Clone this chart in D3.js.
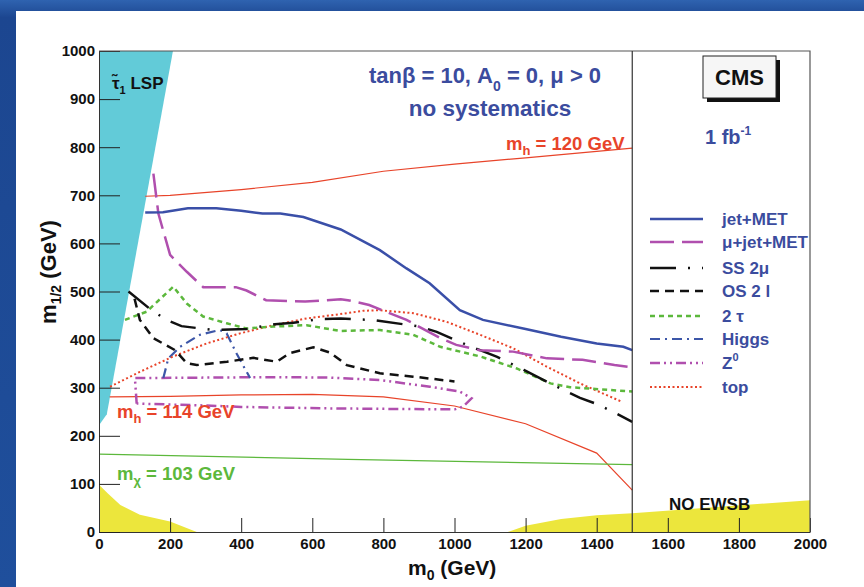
<!DOCTYPE html>
<html>
<head>
<meta charset="utf-8">
<script src="https://cdn.jsdelivr.net/npm/d3@7"></script>
<style>
  body { margin: 0; background: #1e4c96; }
  svg { display: block; }
  text { font-family: "Liberation Sans", Arial, sans-serif; font-weight: bold; }
</style>
</head>
<body>
<div id="chart"></div>
<script>
// region boundaries, [m0, m1/2] in GeV
var stauLSP = [[0,222],[22,245],[208,1000],[0,1000]];
var noEwsbLeft = [[0,0],[0,98],[25,80],[60,56],[115,36],[200,22],[275,0]];
var noEwsbRight = [[1150,0],[1200,13],[1300,27],[1400,35],[1500,39],[2000,66],[2000,0]];

// reference lines
var mh120 = [[130,698],[200,700],[400,712],[600,727],[800,750],[1000,765],[1200,778],[1500,798]];
var mh114 = [[30,281],[200,282],[400,285],[600,286],[800,281],[1000,262],[1200,225],[1400,164],[1500,87]];
var mchi103 = [[0,162],[700,151],[1500,140]];

// 5 sigma discovery reach, 1 fb-1
var jetMet = [[130,664],[180,665],[250,673],[330,673],[400,668],[460,662],[510,662],[575,655],[680,629],[790,586],[865,548],[930,517],[1015,461],[1080,441],[1200,422],[1300,406],[1400,392],[1475,385],[1500,378]];
var muJetMet = [[153,745],[167,662],[200,576],[247,541],[293,509],[385,509],[415,502],[470,482],[580,479],[680,484],[700,482],[760,472],[865,441],[960,403],[1005,389],[1070,378],[1165,375],[1260,361],[1360,358],[1450,347],[1500,342]];
var ss2mu = [[83,500],[148,461],[190,441],[232,428],[320,420],[415,422],[495,432],[547,435],[612,442],[680,444],[725,442],[770,441],[855,432],[903,427],[950,416],[1025,392],[1072,378],[1120,364],[1195,337],[1277,306],[1353,279],[1400,266],[1446,250],[1500,229]];
var os2l = [[100,485],[115,441],[153,403],[214,378],[247,351],[275,347],[360,354],[434,362],[500,354],[537,372],[603,384],[650,373],[697,347],[790,330],[884,323],[1000,313]];
var tau2 = [[73,441],[134,458],[209,510],[247,475],[293,448],[359,434],[415,423],[490,427],[584,430],[678,418],[790,420],[884,410],[960,385],[1072,365],[1175,340],[1270,309],[1325,301],[1500,292]];
var higgs = [[181,320],[195,361],[228,385],[284,410],[340,420],[359,413],[387,371],[425,320]];
var z0 = [[106,267],[101,320],[300,321],[500,322],[650,321],[790,316],[931,302],[1015,292],[1048,278],[1025,261],[1001,255],[800,256],[650,257],[400,260],[300,263],[106,267]];
var topReach = [[31,302],[115,333],[209,365],[303,392],[397,413],[490,430],[584,444],[678,453],[744,460],[790,461],[884,455],[978,437],[1072,410],[1165,382],[1259,344],[1353,309],[1470,271]];

var xTicks = [0,200,400,600,800,1000,1200,1400,1600,1800,2000];
var yTicks = [0,100,200,300,400,500,600,700,800,900,1000];

var width = 864, height = 587;
var textBlue = "#3b4c9e";

var svg = d3.select("#chart").append("svg")
    .attr("width", width)
    .attr("height", height);

var defs = svg.append("defs");
var grad = defs.append("linearGradient").attr("id", "bg").attr("x1", 0).attr("y1", 0).attr("x2", 0).attr("y2", 1);
grad.append("stop").attr("offset", "0").attr("stop-color", "#2f63b0");
grad.append("stop").attr("offset", "0.03").attr("stop-color", "#1c4690");
grad.append("stop").attr("offset", "1").attr("stop-color", "#1f4f9c");
defs.append("clipPath").attr("id", "plotclip")
  .append("rect").attr("x", 99).attr("y", 51).attr("width", 711).attr("height", 481);

svg.append("rect").attr("width", width).attr("height", height).attr("fill", "url(#bg)");
svg.append("rect").attr("x", 16).attr("y", 11).attr("width", width - 16).attr("height", height - 11).attr("fill", "#fff");

var x = d3.scaleLinear().domain([0, 2000]).range([99, 810]);
var y = d3.scaleLinear().domain([0, 1000]).range([532, 51]);

var line = d3.line().x(function(d) { return x(d[0]); }).y(function(d) { return y(d[1]); });

var plot = svg.append("g").attr("clip-path", "url(#plotclip)");

plot.append("path").attr("d", line(stauLSP) + "Z").attr("fill", "#62cbd8");
plot.append("path").attr("d", line(noEwsbLeft) + "Z").attr("fill", "#ece63c");
plot.append("path").attr("d", line(noEwsbRight) + "Z").attr("fill", "#ece63c");

var curves = [
  {data: mh120, color: "#e8442a", w: 1.2, dash: null},
  {data: mh114, color: "#e8442a", w: 1.2, dash: null},
  {data: mchi103, color: "#5cb83c", w: 1.2, dash: null},
  {data: z0, color: "#b04fae", w: 2.5, dash: "10,4,2,4,2,4", name: "Z0"},
  {data: higgs, color: "#3c56a8", w: 2.2, dash: "10,5,2,5", name: "Higgs"},
  {data: topReach, color: "#e8442a", w: 2, dash: "2,2.5", name: "top"},
  {data: tau2, color: "#5cb83c", w: 2.5, dash: "5,4", name: "2tau"},
  {data: os2l, color: "#111", w: 2.5, dash: "9,6", name: "OS"},
  {data: ss2mu, color: "#111", w: 2.5, dash: "26,12,2,12", name: "SS"},
  {data: muJetMet, color: "#b04fae", w: 2.5, dash: "24,8", name: "mu"},
  {data: jetMet, color: "#3a4fa8", w: 2.5, dash: null, name: "jet"}
];

curves.forEach(function(c) {
  plot.append("path")
    .attr("d", line(c.data))
    .attr("fill", "none")
    .attr("stroke", c.color)
    .attr("stroke-width", c.w)
    .attr("stroke-dasharray", c.dash);
});

// axes, ROOT style: ticks inside
function minorTicks(step, max) {
  return d3.range(0, max + 0.1, step);
}

var xAxis = svg.append("g").attr("transform", "translate(0,532)");
xAxis.call(d3.axisBottom(x).tickValues(minorTicks(50, 2000)).tickSize(-7).tickFormat(""));
xAxis.call(d3.axisBottom(x).tickValues(xTicks).tickSizeInner(-14).tickSizeOuter(0).tickPadding(6).tickFormat(d3.format("d")));
xAxis.selectAll("text").attr("font-size", 15).attr("fill", "#111").attr("dy", "0.75em");

var yAxis = svg.append("g").attr("transform", "translate(99,0)");
yAxis.call(d3.axisLeft(y).tickValues(minorTicks(20, 1000)).tickSize(-11).tickFormat(""));
yAxis.call(d3.axisLeft(y).tickValues(yTicks).tickSizeInner(-21).tickSizeOuter(0).tickPadding(4).tickFormat(d3.format("d")));
yAxis.selectAll("text").attr("font-size", 15).attr("fill", "#111");
svg.selectAll(".domain").attr("stroke", "#333");
svg.selectAll(".tick line").attr("stroke", "#222");

// frame and the m0 = 1500 divider
svg.append("path")
  .attr("d", "M" + x(0) + "," + y(1000) + "H" + x(2000) + "V" + y(0))
  .attr("fill", "none").attr("stroke", "#555").attr("stroke-width", 1.2);
svg.append("line")
  .attr("x1", x(1500)).attr("x2", x(1500)).attr("y1", y(0)).attr("y2", y(1000))
  .attr("stroke", "#333").attr("stroke-width", 1.2);

// axis titles
var xt = svg.append("text").attr("x", 408).attr("y", 575).attr("font-size", 21).attr("fill", "#111");
xt.append("tspan").text("m");
xt.append("tspan").attr("font-size", 14).attr("dy", 5).text("0");
xt.append("tspan").attr("dy", -5).text(" (GeV)");

var yt = svg.append("text").attr("transform", "translate(56,272) rotate(-90)")
  .attr("text-anchor", "middle").attr("font-size", 22).attr("fill", "#111");
yt.append("tspan").text("m");
yt.append("tspan").attr("font-size", 14).attr("dy", 5).text("1/2");
yt.append("tspan").attr("dy", -5).text(" (GeV)");

// annotations
var lsp = svg.append("text").attr("x", 112).attr("y", 89).attr("font-size", 17).attr("fill", "#111");
lsp.append("tspan").text("\u03c4\u0303");
lsp.append("tspan").attr("font-size", 11).attr("dy", 5).text("1");
lsp.append("tspan").attr("dy", -5).text(" LSP");

function massLabel(xp, yp, sub, rest, color) {
  var t = svg.append("text").attr("x", xp).attr("y", yp).attr("font-size", 18.5).attr("fill", color);
  t.append("tspan").text("m");
  t.append("tspan").attr("font-size", 13).attr("dy", 5).text(sub);
  t.append("tspan").attr("dy", -5).text(rest);
}
massLabel(506, 150, "h", " = 120 GeV", "#e8442a");
massLabel(117, 418, "h", " = 114 GeV", "#e8442a");
massLabel(117, 480, "\u03c7", " = 103 GeV", "#5cb83c");

svg.append("text").attr("x", 669).attr("y", 510).attr("font-size", 17).attr("fill", "#111").text("NO EWSB");

var t1 = svg.append("text").attr("x", 485).attr("y", 83).attr("text-anchor", "middle")
  .attr("font-size", 22).attr("fill", textBlue);
t1.append("tspan").text("tan\u03b2 = 10, A");
t1.append("tspan").attr("font-size", 14).attr("dy", 8).text("0");
t1.append("tspan").attr("dy", -8).text(" = 0, \u03bc > 0");
svg.append("text").attr("x", 490).attr("y", 116).attr("text-anchor", "middle")
  .attr("font-size", 22.5).attr("fill", textBlue).text("no systematics");

// CMS box
svg.append("rect").attr("x", 707).attr("y", 60).attr("width", 73).attr("height", 42).attr("fill", "#111");
svg.append("rect").attr("x", 703).attr("y", 56).attr("width", 73).attr("height", 42)
  .attr("fill", "#f6f6f6").attr("stroke", "#222").attr("stroke-width", 1);
svg.append("text").attr("x", 739.5).attr("y", 85).attr("text-anchor", "middle")
  .attr("font-size", 22).attr("fill", "#111").text("CMS");

var lumi = svg.append("text").attr("x", 705).attr("y", 144).attr("font-size", 20).attr("fill", textBlue);
lumi.append("tspan").text("1 fb");
lumi.append("tspan").attr("font-size", 12).attr("dy", -9).text("-1");

// legend
var legendNames = ["jet+MET", "\u03bc+jet+MET", "SS 2\u03bc", "OS 2 l", "2 \u03c4", "Higgs", "Z0", "top"];
var legendKeys = ["jet", "mu", "SS", "OS", "2tau", "Higgs", "Z0", "top"];
var legendY = [219, 242, 268, 291, 316, 339, 363, 387];

var legend = svg.append("g");
legendKeys.forEach(function(k, i) {
  var c = curves.filter(function(d) { return d.name === k; })[0];
  legend.append("line")
    .attr("x1", 650).attr("x2", 703).attr("y1", legendY[i]).attr("y2", legendY[i])
    .attr("stroke", c.color).attr("stroke-width", c.w).attr("stroke-dasharray", c.dash);
  var t = legend.append("text").attr("x", 722).attr("y", legendY[i] + 6)
    .attr("font-size", 17).attr("fill", textBlue);
  if (k === "Z0") {
    t.append("tspan").text("Z");
    t.append("tspan").attr("font-size", 11).attr("dy", -8).text("0");
  } else {
    t.text(legendNames[i]);
  }
});
</script>
</body>
</html>
